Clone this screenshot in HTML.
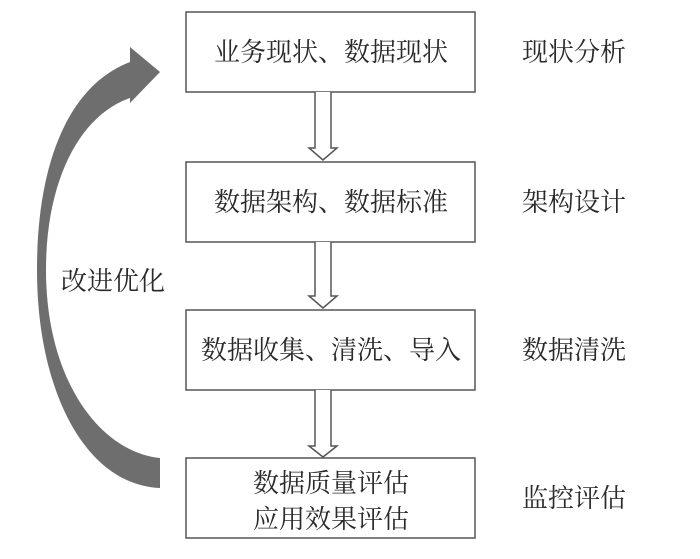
<!DOCTYPE html>
<html><head><meta charset="utf-8"><style>
body{margin:0;background:#fff}
svg text{font-family:"Noto Serif CJK SC","Liberation Serif",serif;fill:#2a2a2a}
</style></head><body>
<svg width="700" height="554" viewBox="0 0 700 554" xmlns="http://www.w3.org/2000/svg">
<g fill="#fff" stroke="#555" stroke-width="1.5">
<rect x="186" y="12" width="289" height="80"/>
<rect x="186" y="162" width="289" height="80"/>
<rect x="186" y="310" width="289" height="80"/>
<rect x="186" y="458" width="289" height="80"/>
</g>
<g fill="#fff" stroke="#555" stroke-width="1.5">
<path d="M315,92 V148 H309 L323,160 L337,148 H331 V92"/>
<path d="M315,242 V296 H309 L323,308 L337,296 H331 V242"/>
<path d="M315,390 V446 H309 L323,457 L337,446 H331 V390"/>
</g>
<path d="M160,458 C100,452 46,380 46,270 C46,180 80,115 130,98 L130,103 L160,72 L130,47 L130,62 C70,85 37,160 37,270 C37,390 85,485 160,488 Z" fill="#6e6e6e"/>
<g font-size="26" text-anchor="middle">
<text x="331" y="61">业务现状、数据现状</text>
<text x="331" y="211">数据架构、数据标准</text>
<text x="331" y="359">数据收集、清洗、导入</text>
<text x="331" y="492">数据质量评估</text>
<text x="331" y="528">应用效果评估</text>
</g>
<g font-size="26">
<text x="522" y="61">现状分析</text>
<text x="522" y="211">架构设计</text>
<text x="522" y="359">数据清洗</text>
<text x="522" y="507">监控评估</text>
<text x="61" y="290">改进优化</text>
</g>
</svg>
</body></html>
